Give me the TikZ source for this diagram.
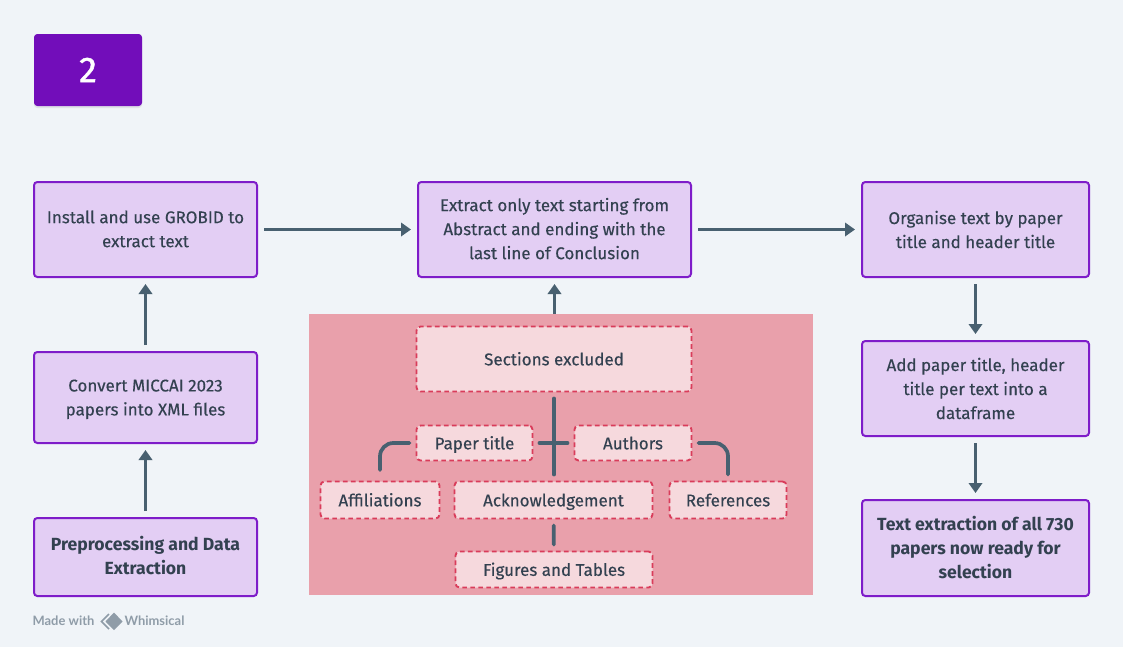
\documentclass[tikz,border=0pt]{standalone}
\usepackage{fontspec}
\setmainfont{Fira Sans}[FakeBold=0.3]
\newfontfamily\strongfont{Fira Sans Bold}
\newfontfamily\badgefont{Fira Sans}[FakeBold=1.2]
\newfontfamily\logofont{Lato}
\usetikzlibrary{arrows.meta,shadows}

\definecolor{pagebg}{HTML}{F0F4F8}
\definecolor{stepfill}{HTML}{E3CEF4}
\definecolor{stepline}{HTML}{7E1CC9}
\definecolor{badgefill}{HTML}{720DBA}
\definecolor{inktext}{HTML}{334150}
\definecolor{arrowink}{HTML}{486070}
\definecolor{backfill}{HTML}{E9A0AB}
\definecolor{dropfill}{HTML}{F6D9DD}
\definecolor{dropline}{HTML}{D93C5A}
\definecolor{logoink}{HTML}{8F9CA8}

\begin{document}
\begin{tikzpicture}[
    x=0.75pt, y=-0.75pt,
    sized/.style 2 args={minimum width=#1*0.75pt-1.5pt, minimum height=#2*0.75pt-1.5pt},
    stepbox/.style={draw=stepline, fill=stepfill, line width=1.5pt, rounded corners=2.5pt, inner sep=0pt,
      align=center, text=inktext, font=\fontsize{12.75}{18}\selectfont},
    boldstep/.style={stepbox, font=\strongfont\fontsize{13.2}{18}\selectfont},
    dropbox/.style={draw=dropline, fill=dropfill, line width=1.4pt, rounded corners=3pt, inner sep=0pt,
      dash pattern=on 3.5pt off 2.5pt, align=center, text=inktext, text height=11pt, text depth=1.5pt,
      font=\fontsize{12.75}{18}\selectfont},
    conn/.style={draw=arrowink, line width=2.8pt, line cap=round, shorten <=4.5pt, shorten >=4.5pt},
    flow/.style={conn, line cap=butt, -{Triangle[length=7.5pt,width=10pt]}}
  ]
\useasboundingbox (0,0) rectangle (1123,647);
\fill[pagebg] (0,0) rectangle (1123,647);

% Badge
\node (badge) [minimum width=81pt, minimum height=54pt, fill=badgefill, rounded corners=2.5pt, text=white,
  font=\badgefont\fontsize{27}{30}\selectfont, drop shadow={opacity=0.15, shadow xshift=0pt, shadow yshift=-1.5pt}] at (88,70) {2};

% Left column
\node (install) [stepbox, sized={225}{97}, text depth=1pt] at (145.5,229.5) {Install and use GROBID to\\extract text};
\node (convert) [stepbox, sized={225}{93}, text depth=0pt] at (145.5,397.5) {Convert MICCAI 2023\\papers into XML files};
\node (prep) [boldstep, sized={225}{80}, text depth=3pt] at (145.5,557) {Preprocessing and Data\\Extraction};

% Middle
\node (extract) [stepbox, sized={275}{97}, text depth=1.5pt] at (554.5,229.5) {Extract only text starting from\\Abstract and ending with the\\last line of Conclusion};

% Right column
\node (organise) [stepbox, sized={229}{97}] at (975.5,229.5) {Organise text by paper\\title and header title};
\node (dataframe) [stepbox, sized={229}{97}] at (975.5,388.5) {Add paper title, header\\title per text into a\\dataframe};
\node (ready) [boldstep, sized={229}{98}, text depth=1.5pt] at (975.5,548) {Text extraction of all 730\\papers now ready for\\selection};

% Excluded sections
\node (back) [minimum width=378pt, minimum height=210.75pt, fill=backfill, inner sep=0pt] at (561,454.5) {};
\node (sections) [dropbox, sized={277}{67}] at (554,359) {Sections excluded};
\node (paper) [dropbox, sized={118}{37}] at (474.5,443) {Paper title};
\node (authors) [dropbox, sized={119}{37}] at (633,443) {Authors};
\node (affil) [dropbox, sized={121}{39}] at (380,500) {Affiliations};
\node (ack) [dropbox, sized={200}{39}] at (553.5,500) {Acknowledgement};
\node (refs) [dropbox, sized={119}{39}] at (728,500) {References};
\node (figs) [dropbox, sized={199}{38}] at (554,569.5) {Figures and Tables};

% Arrows
\draw[flow] (prep) -- (convert);
\draw[flow] (convert) -- (install);
\draw[flow] (install) -- (extract);
\draw[flow] (extract) -- (organise);
\draw[flow] (organise) -- (dataframe);
\draw[flow] (dataframe) -- (ready);
\draw[flow, shorten <=0pt] (extract |- back.north) -- (extract);

% Lines between the excluded sections
\draw[conn] (sections) -- (sections |- ack.north);
\draw[conn] (paper) -- (authors);
\draw[conn] (ack) -- (figs);
\draw[conn, rounded corners=10pt, shorten >=8pt] (paper.west) -| (affil.north);
\draw[conn, rounded corners=10pt] (authors.east) -| (refs.north);

% Footer
\node (made) [text=logoink, font=\logofont\bfseries\fontsize{9.7}{10}\selectfont, inner sep=0pt] at (63.5,621) {Made with};
\node (whim) [text=logoink, font=\logofont\bfseries\fontsize{9.7}{10}\selectfont, inner sep=0pt] at (154.5,621) {Whimsical};
\draw[logoink, line width=1.2pt] (109,614) -- (101.5,621.5) -- (109,629);
\fill[logoink] (114,612.5) -- (122.5,621.5) -- (114,630) -- (105.5,621.5) -- cycle;
\end{tikzpicture}
\end{document}
